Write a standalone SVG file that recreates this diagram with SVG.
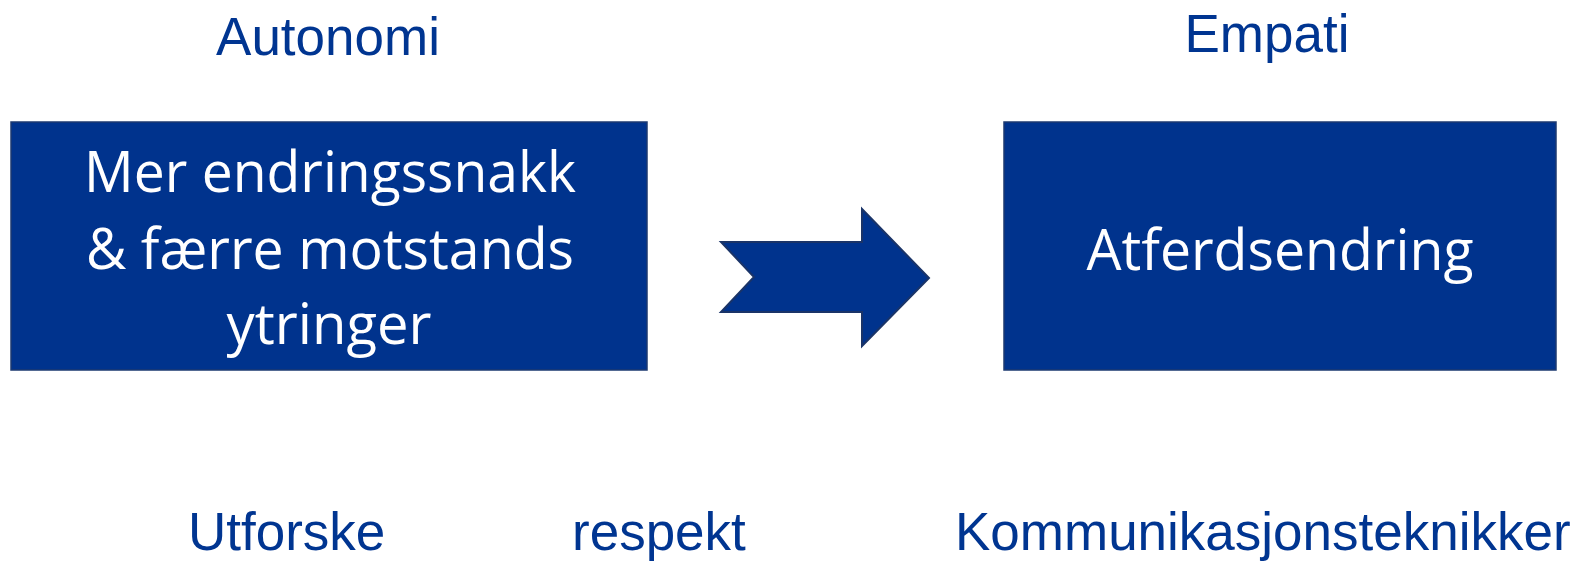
<svg xmlns="http://www.w3.org/2000/svg" width="1580" height="561" viewBox="0 0 1580 561">
<style>
.box{fill:#00338d;stroke:#1d3a70;stroke-width:1.5}
.in{font-family:"Open Sans","Noto Sans",sans-serif;fill:#ffffff;text-anchor:middle;font-size:56px}
.lbl{font-family:"Liberation Sans",Arial,sans-serif;fill:#003591;font-size:53px}
</style>
<rect width="1580" height="561" fill="#ffffff"/>
<g id="autonomi"><text class="lbl" x="328" y="55" text-anchor="middle">Autonomi</text></g>
<g id="empati"><text class="lbl" x="1267" y="52" text-anchor="middle">Empati</text></g>
<g id="box-left">
<rect class="box" x="11" y="122" width="636" height="248"/>
<text class="in" x="330" y="192" textLength="492" lengthAdjust="spacingAndGlyphs">Mer endringssnakk</text>
<text class="in" x="330" y="269" textLength="488" lengthAdjust="spacingAndGlyphs">&amp; færre motstands</text>
<text class="in" x="329" y="344" textLength="205" lengthAdjust="spacingAndGlyphs">ytringer</text>
</g>
<g id="box-right">
<rect class="box" x="1004" y="122" width="552" height="248"/>
<text class="in" x="1280" y="270" textLength="387" lengthAdjust="spacingAndGlyphs">Atferdsendring</text>
</g>
<g id="connectors">
<path d="M721,242 L862,242 L862,209 L929,278 L862,346 L862,312 L721,312 L754,277 Z" fill="#00338d" stroke="#1a3468" stroke-width="2" stroke-linejoin="miter"/>
</g>
<g id="utforske"><text class="lbl" x="188" y="550">Utforske</text></g>
<g id="respekt"><text class="lbl" x="572" y="550">respekt</text></g>
<g id="kommunikasjon"><text class="lbl" x="955" y="550">Kommunikasjonsteknikker</text></g>
</svg>
